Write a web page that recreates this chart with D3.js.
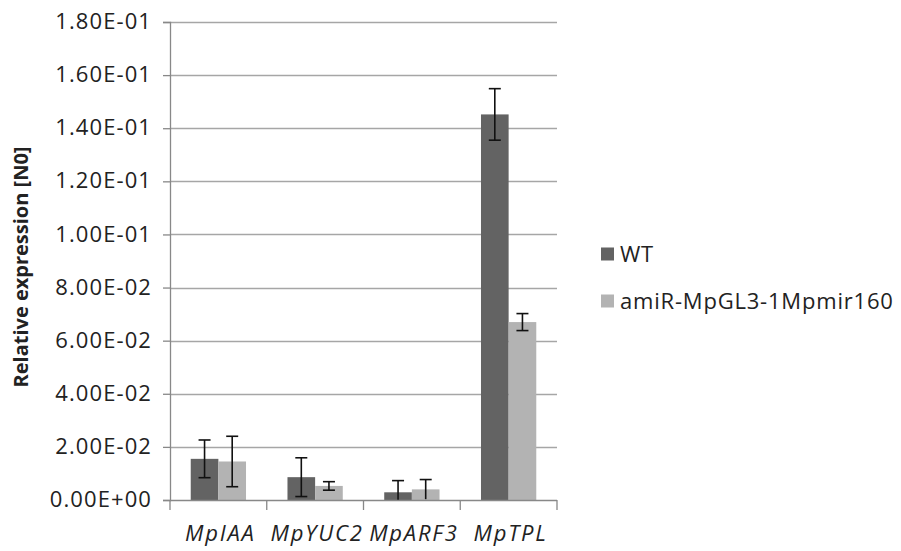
<!DOCTYPE html>
<html>
<head>
<meta charset="utf-8">
<script src="https://cdn.jsdelivr.net/npm/d3@7"></script>
<style>
  body { margin: 0; background: #fff; }
  svg text { font-family: "Open Sans", "Noto Sans", sans-serif; fill: #222; }
</style>
</head>
<body>
<div class="canvas"></div>
<script>
const genes = ["MpIAA", "MpYUC2", "MpARF3", "MpTPL"];
const seriesNames = ["WT", "amiR-MpGL3-1Mpmir160"];
const wtValues = [0.0155, 0.0086, 0.0029, 0.1452];
const wtErrors = [0.0071, 0.0073, 0.0044, 0.0097];
const amiValues = [0.0145, 0.0053, 0.0040, 0.0670];
const amiErrors = [0.0095, 0.0016, 0.0037, 0.0032];
const yTicks = [0, 0.02, 0.04, 0.06, 0.08, 0.1, 0.12, 0.14, 0.16, 0.18];
const colors = ["#636363", "#b3b3b3"];

const margin = { top: 22, left: 170 };
const width = 387;
const height = 478;

const fmt = (v) => {
  if (v === 0) return "0.00E+00";
  const s = v.toExponential(2).toUpperCase();
  const [m, e] = s.split("E");
  const n = parseInt(e, 10);
  return m + "E" + (n < 0 ? "-" : "+") + String(Math.abs(n)).padStart(2, "0");
};

const svg = d3.select(".canvas").append("svg").attr("width", 901).attr("height", 551);
const chart = svg.append("g").attr("transform", `translate(${margin.left}, ${margin.top})`);

const x = d3.scaleBand().domain(genes).range([0, width]).paddingInner(0).paddingOuter(0);
const y = d3.scaleLinear().domain([0, 0.18]).range([height, 0]);

// gridlines
chart.append("g").selectAll("line").data(yTicks.slice(1)).enter().append("line")
  .attr("x1", 0).attr("x2", width)
  .attr("y1", (d) => Math.round(y(d)) + 0.5).attr("y2", (d) => Math.round(y(d)) + 0.5)
  .attr("stroke", "#a6a6a6").attr("stroke-width", 1.3);

// bars
const bandW = x.bandwidth();
const barW = bandW / 3.5;
const data = genes.map((g, i) => ({
  gene: g,
  vals: [
    { s: 0, v: wtValues[i], e: wtErrors[i] },
    { s: 1, v: amiValues[i], e: amiErrors[i] },
  ],
}));

const groups = chart.selectAll(".grp").data(data).enter().append("g")
  .attr("transform", (d) => `translate(${x(d.gene) + barW * 0.75}, 0)`);

groups.selectAll("rect").data((d) => d.vals).enter().append("rect")
  .attr("x", (d) => d.s * barW)
  .attr("width", barW)
  .attr("y", (d) => y(d.v))
  .attr("height", (d) => y(0) - y(d.v))
  .attr("fill", (d) => colors[d.s]);

// error bars
const eb = groups.selectAll(".err").data((d) => d.vals).enter().append("g")
  .attr("transform", (d) => `translate(${d.s * barW + barW / 2}, 0)`);
eb.append("line")
  .attr("x1", 0).attr("x2", 0)
  .attr("y1", (d) => y(d.v + d.e))
  .attr("y2", (d) => y(Math.max(0, d.v - d.e)))
  .attr("stroke", "#111").attr("stroke-width", 1.6);
eb.append("line")
  .attr("x1", -6).attr("x2", 6)
  .attr("y1", (d) => y(d.v + d.e)).attr("y2", (d) => y(d.v + d.e))
  .attr("stroke", "#111").attr("stroke-width", 1.6);
eb.filter((d) => d.v - d.e > 0.0005).append("line")
  .attr("x1", -6).attr("x2", 6)
  .attr("y1", (d) => y(d.v - d.e)).attr("y2", (d) => y(d.v - d.e))
  .attr("stroke", "#111").attr("stroke-width", 1.6);

// y axis
const yAxis = d3.axisLeft(y).tickValues(yTicks).tickFormat(fmt).tickSize(7).tickPadding(11);
const yg = chart.append("g").call(yAxis);
yg.select(".domain").attr("stroke", "#888").attr("stroke-width", 1.3);
yg.selectAll(".tick line").attr("stroke", "#888").attr("stroke-width", 1.3);
yg.selectAll(".tick text")
  .style("font-size", "22px").style("letter-spacing", "1.1px")
  .attr("dy", "0.3em").style("fill", "#222");

// x axis
const xg = chart.append("g").attr("transform", `translate(0, ${height})`);
xg.append("line").attr("x1", 0).attr("x2", width).attr("y1", 0.5).attr("y2", 0.5)
  .attr("stroke", "#888").attr("stroke-width", 1.3);
xg.selectAll(".xt").data(d3.range(genes.length + 1)).enter().append("line")
  .attr("x1", (i) => i * bandW).attr("x2", (i) => i * bandW)
  .attr("y1", 0).attr("y2", 10)
  .attr("stroke", "#888").attr("stroke-width", 1.3);
xg.selectAll("text").data(genes).enter().append("text")
  .attr("x", (d) => x(d) + bandW / 2 + 2)
  .attr("y", 41)
  .attr("text-anchor", "middle")
  .style("font-size", "22px")
  .style("letter-spacing", "1.8px")
  .style("font-style", "italic")
  .text((d) => d);

// y title
svg.append("text")
  .attr("transform", `translate(28, 267) rotate(-90)`)
  .attr("text-anchor", "middle")
  .style("font-size", "20px")
  .style("font-weight", "bold")
  .text("Relative expression [N0]");

// legend
const legend = svg.append("g").attr("transform", "translate(601, 254)");
const li = legend.selectAll("g").data(seriesNames).enter().append("g")
  .attr("transform", (d, i) => `translate(0, ${i * 47})`);
li.append("rect").attr("x", 0).attr("y", -6.5).attr("width", 13).attr("height", 13)
  .attr("fill", (d, i) => colors[i]);
li.append("text").attr("x", 19).attr("y", 0).attr("dy", "0.35em")
  .style("font-size", "22px").style("letter-spacing", "0.8px").text((d) => d);
</script>
</body>
</html>
